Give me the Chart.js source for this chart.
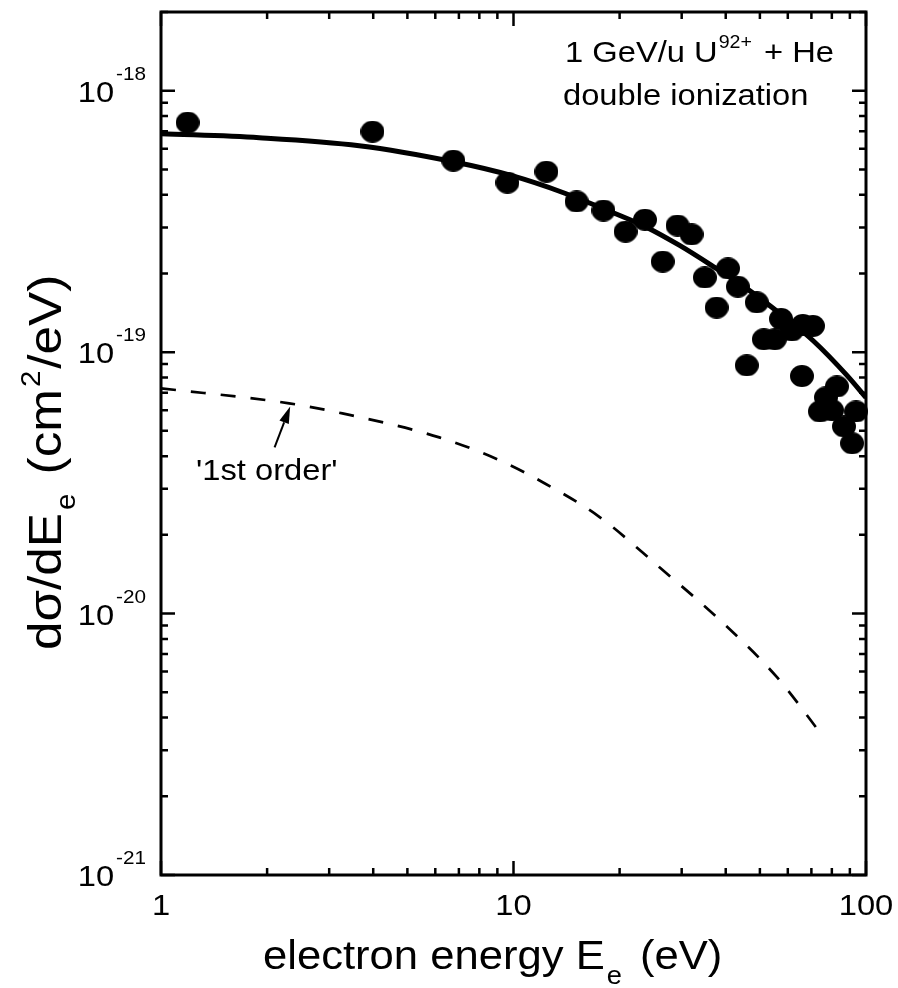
<!DOCTYPE html>
<html>
<head>
<meta charset="utf-8">
<script src="https://cdn.jsdelivr.net/npm/chart.js@4.4.0/dist/chart.umd.min.js"></script>
<style>
  html, body { margin: 0; padding: 0; background: #ffffff; }
  #wrap { width: 898px; height: 988px; position: relative; }
  canvas { display: block; }
</style>
</head>
<body>
<div id="wrap"><canvas id="chart" width="898" height="988"></canvas></div>
<script>
// Measured double-ionization cross sections (eV, cm^2/eV)
const energyMeasured = [1.19, 3.98, 6.75, 9.61, 12.4, 15.1, 18.0, 20.8, 23.6, 26.5, 29.2, 32.0,
  34.9, 37.7, 40.6, 43.3, 45.9, 49.0, 51.3, 55.1, 57.4, 61.6, 65.8, 66.2, 70.7, 74.0, 77.0,
  80.1, 82.7, 86.6, 91.3, 93.7];
const sigmaMeasured = [7.55e-19, 6.97e-19, 5.40e-19, 4.45e-19, 4.90e-19, 3.77e-19, 3.48e-19,
  2.89e-19, 3.21e-19, 2.22e-19, 3.05e-19, 2.82e-19, 1.93e-19, 1.48e-19, 2.09e-19, 1.78e-19,
  8.9e-20, 1.55e-19, 1.12e-19, 1.12e-19, 1.34e-19, 1.21e-19, 8.1e-20, 1.27e-19, 1.26e-19,
  5.93e-20, 6.71e-20, 5.99e-20, 7.39e-20, 5.20e-20, 4.48e-20, 5.93e-20];

// Full calculation (solid curve)
const energyFull = [1, 1.9, 3.65, 6.7, 9.9, 13.8, 19.1, 23.9, 29.6, 36.8, 45.9, 57, 70.7, 88.3, 100];
const sigmaFull = [6.85e-19, 6.61e-19, 6.16e-19, 5.36e-19, 4.73e-19, 4.08e-19, 3.42e-19, 3.0e-19,
  2.56e-19, 2.13e-19, 1.75e-19, 1.405e-19, 1.108e-19, 8.15e-20, 6.7e-20];

// First-order contribution (dashed curve)
const energyFirstOrder = [1, 2.31, 3.27, 6.16, 9.12, 12.1, 17.55, 26.0, 38.5, 55.9, 75.0];
const sigmaFirstOrder = [7.27e-20, 6.37e-20, 5.83e-20, 4.72e-20, 3.86e-20, 3.18e-20, 2.34e-20,
  1.50e-20, 9.44e-21, 5.71e-21, 3.43e-21];

// Axis ticks
const xTickValues = [1, 10, 100];
const xTickLabels = ['1', '10', '100'];
const yTickExponents = [-18, -19, -20, -21];

// Arrow pointing at the dashed curve (tail, tip) in data units
const arrowFrom = { x: 2.10, y: 4.32e-20 };
const arrowTo = { x: 2.325, y: 6.2e-20 };

const FONT = '"Liberation Sans", Arial, Helvetica, sans-serif';
const WIDE = 1.09; // horizontal stretch applied to all lettering

const zip = (xs, ys) => xs.map((x, i) => ({ x: x, y: ys[i] }));

// Filled ellipse used as the marker for measured points
function ellipseMarker(w, h) {
  const c = document.createElement('canvas');
  c.width = w; c.height = h;
  const g = c.getContext('2d');
  g.fillStyle = '#000';
  g.beginPath();
  g.ellipse(w / 2, h / 2, w / 2, h / 2, 0, 0, Math.PI * 2);
  g.fill();
  return c;
}
const marker = ellipseMarker(24, 22);

// Draw a run of text pieces (normal / superscript / subscript) starting at x
function drawRun(ctx, pieces, x, y, align) {
  let total = 0;
  const widths = pieces.map(p => {
    ctx.font = p.size + 'px ' + FONT;
    const w = ctx.measureText(p.t).width * WIDE + (p.gap || 0) + (p.gapBefore || 0);
    total += w;
    return w;
  });
  let cx = align === 'right' ? x - total : (align === 'center' ? x - total / 2 : x);
  pieces.forEach((p, i) => {
    ctx.font = p.size + 'px ' + FONT;
    ctx.textAlign = 'left';
    ctx.textBaseline = 'alphabetic';
    ctx.save();
    ctx.translate(cx + (p.gapBefore || 0), y + (p.dy || 0));
    ctx.scale(WIDE, 1);
    ctx.fillText(p.t, 0, 0);
    ctx.restore();
    cx += widths[i];
  });
}

const framePlugin = {
  id: 'frameAndLabels',
  afterDraw(chart) {
    const ctx = chart.ctx;
    const xs = chart.scales.x, ys = chart.scales.y;
    const a = chart.chartArea;
    ctx.save();
    ctx.fillStyle = '#000';
    ctx.strokeStyle = '#000';

    // plot frame
    ctx.lineWidth = 3;
    ctx.strokeRect(a.left, a.top, a.right - a.left, a.bottom - a.top);

    // inward ticks on all four sides
    ctx.lineWidth = 2.5;
    ctx.lineCap = 'butt';
    const majorLen = 14, minorLen = 7;
    const xTicks = [];
    for (let d = 1; d <= 10; d *= 10) {
      for (let m = 1; m <= 9; m++) xTicks.push({ v: m * d, major: m === 1 });
    }
    xTicks.push({ v: 100, major: true });
    xTicks.forEach(t => {
      const px = xs.getPixelForValue(t.v);
      const len = t.major ? majorLen : minorLen;
      ctx.beginPath();
      ctx.moveTo(px, a.bottom); ctx.lineTo(px, a.bottom - len);
      ctx.moveTo(px, a.top); ctx.lineTo(px, a.top + len);
      ctx.stroke();
    });
    const yTicks = [];
    for (let e = -21; e <= -18; e++) {
      for (let m = 1; m <= 9; m++) {
        const v = m * Math.pow(10, e);
        if (v <= ys.max * 1.0001) yTicks.push({ v: v, major: m === 1 });
      }
    }
    yTicks.forEach(t => {
      const py = ys.getPixelForValue(t.v);
      const len = t.major ? majorLen : minorLen;
      ctx.beginPath();
      ctx.moveTo(a.left, py); ctx.lineTo(a.left + len, py);
      ctx.moveTo(a.right, py); ctx.lineTo(a.right - len, py);
      ctx.stroke();
    });

    // y tick labels 10^n
    yTickExponents.forEach(e => {
      const py = ys.getPixelForValue(Math.pow(10, e));
      drawRun(ctx, [
        { t: '10', size: 30 },
        { t: '-' + Math.abs(e), size: 19, dy: -22, gapBefore: 2 }
      ], 146, py + 11, 'right');
    });

    // x tick labels
    xTickValues.forEach((v, i) => {
      const px = xs.getPixelForValue(v);
      drawRun(ctx, [{ t: xTickLabels[i], size: 30 }], px, 915, 'center');
    });

    // x axis title
    drawRun(ctx, [
      { t: 'electron energy E', size: 40 },
      { t: 'e', size: 25, dy: 15, gapBefore: 2, gap: 6 },
      { t: ' (eV)', size: 40 }
    ], 263, 969, 'left');

    // y axis title (rotated)
    ctx.save();
    ctx.translate(61, 650);
    ctx.rotate(-Math.PI / 2);
    drawRun(ctx, [
      { t: 'd\u03C3/dE', size: 47 },
      { t: 'e', size: 27, dy: 14, gapBefore: 3, gap: 5 },
      { t: ' (cm', size: 47 },
      { t: '2', size: 27, dy: -21, gapBefore: 2, gap: 2 },
      { t: '/eV)', size: 47 }
    ], 0, 0, 'left');
    ctx.restore();

    // collision system label
    drawRun(ctx, [
      { t: '1 GeV/u U', size: 30 },
      { t: '92+', size: 18, dy: -14, gapBefore: 1, gap: 3 },
      { t: ' + He', size: 30 }
    ], 565, 62, 'left');
    drawRun(ctx, [{ t: 'double ionization', size: 30 }], 563, 105, 'left');

    // '1st order' label and arrow
    drawRun(ctx, [{ t: "'1st order'", size: 30 }], 196, 480, 'left');
    const x0 = xs.getPixelForValue(arrowFrom.x), y0 = ys.getPixelForValue(arrowFrom.y);
    const x1 = xs.getPixelForValue(arrowTo.x), y1 = ys.getPixelForValue(arrowTo.y);
    const ang = Math.atan2(y1 - y0, x1 - x0);
    const headLen = 17, headHalf = 5;
    const bx = x1 - headLen * Math.cos(ang), by = y1 - headLen * Math.sin(ang);
    ctx.lineWidth = 2;
    ctx.beginPath();
    ctx.moveTo(x0, y0); ctx.lineTo(bx, by);
    ctx.stroke();
    ctx.beginPath();
    ctx.moveTo(x1, y1);
    ctx.lineTo(bx + headHalf * Math.sin(ang), by - headHalf * Math.cos(ang));
    ctx.lineTo(bx - headHalf * Math.sin(ang), by + headHalf * Math.cos(ang));
    ctx.closePath();
    ctx.fill();

    ctx.restore();
  }
};

new Chart(document.getElementById('chart'), {
  type: 'scatter',
  data: {
    datasets: [
      {
        label: 'full',
        data: zip(energyFull, sigmaFull),
        showLine: true,
        borderColor: '#000',
        borderWidth: 5,
        pointRadius: 0,
        cubicInterpolationMode: 'monotone',
        clip: 0
      },
      {
        label: '1st order',
        data: zip(energyFirstOrder, sigmaFirstOrder),
        showLine: true,
        borderColor: '#000',
        borderWidth: 2.7,
        borderDash: [15, 15],
        pointRadius: 0,
        cubicInterpolationMode: 'monotone',
        clip: 0
      },
      {
        label: 'experiment',
        data: zip(energyMeasured, sigmaMeasured),
        showLine: false,
        pointStyle: marker,
        pointRadius: 11,
        backgroundColor: '#000',
        borderColor: '#000',
        clip: false
      }
    ]
  },
  options: {
    responsive: false,
    maintainAspectRatio: false,
    animation: false,
    devicePixelRatio: 1,
    layout: { padding: { left: 161, right: 32, top: 12, bottom: 113 } },
    plugins: { legend: { display: false }, tooltip: { enabled: false } },
    scales: {
      x: { type: 'logarithmic', min: 1, max: 100, display: false },
      y: { type: 'logarithmic', min: 1e-21, max: 2e-18, display: false }
    }
  },
  plugins: [framePlugin]
});
</script>
</body>
</html>
